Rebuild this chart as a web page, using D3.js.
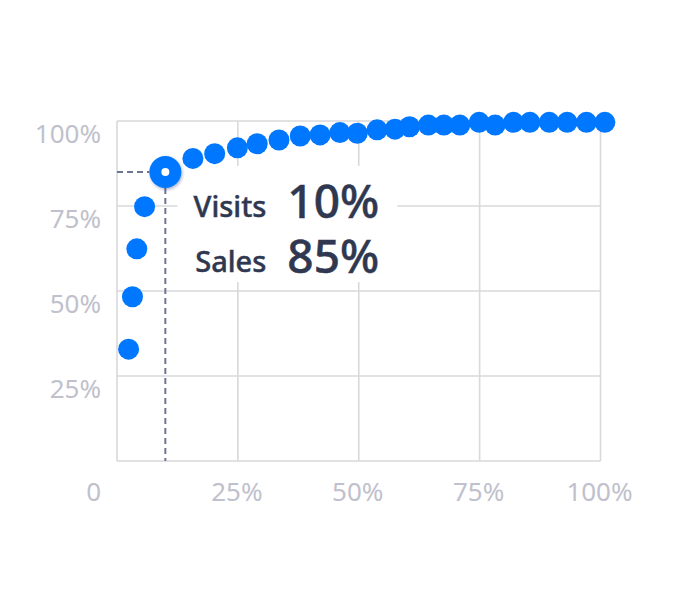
<!DOCTYPE html>
<html>
<head>
  <meta charset="UTF-8" />
  <title>Visits vs Sales</title>
  <script src="https://d3js.org/d3.v7.min.js"></script>
  <style>
    body { margin: 0; background: #fff; }
    text { font-family: "Noto Sans", sans-serif; }
    .grid line { stroke: #d9d9dc; stroke-width: 1.6px; }
    .tick-label { fill: #c0c1cc; font-size: 26px; }
    .guide { stroke: #6e7591; stroke-width: 2px; stroke-dasharray: 6 4; }
    .tip-label { fill: #2f3850; stroke: #2f3850; stroke-width: 0.45px; font-size: 29px; font-weight: 500; }
    .tip-value { fill: #2f3850; stroke: #2f3850; stroke-width: 0.5px; font-size: 46px; font-weight: 500; }
  </style>
</head>
<body>
<svg id="chart" width="680" height="598"></svg>

<script>
  // cumulative share of visits (x) vs share of sales (y)
  const visits = [0.024, 0.032, 0.041, 0.057, 0.10, 0.157, 0.202, 0.249, 0.290, 0.335,
    0.379, 0.420, 0.461, 0.497, 0.538, 0.575, 0.605, 0.644, 0.676, 0.709,
    0.749, 0.782, 0.820, 0.854, 0.894, 0.931, 0.971, 1.009];
  const sales = [0.329, 0.483, 0.624, 0.748, 0.85, 0.890, 0.904, 0.921, 0.933, 0.944,
    0.956, 0.959, 0.966, 0.964, 0.974, 0.976, 0.983, 0.988, 0.988, 0.988,
    0.996, 0.988, 0.996, 0.996, 0.996, 0.996, 0.996, 0.996];
  const ticks = [0.25, 0.5, 0.75, 1];
  const highlight = 4; // the point shown in the tooltip

  const svg = d3.select("#chart");
  const x = d3.scaleLinear().domain([0, 1]).range([117, 600.5]);
  const y = d3.scaleLinear().domain([0, 1]).range([461, 121]);
  const fmt = d3.format(".0%");

  // grid
  const grid = svg.append("g").attr("class", "grid");
  grid.selectAll(".v").data([0, ...ticks]).enter().append("line")
    .attr("x1", d => x(d)).attr("x2", d => x(d))
    .attr("y1", y(0)).attr("y2", y(1));
  grid.selectAll(".h").data([0, ...ticks]).enter().append("line")
    .attr("x1", x(0)).attr("x2", x(1))
    .attr("y1", d => y(d)).attr("y2", d => y(d));

  // axis labels
  svg.selectAll(".ylab").data(ticks).enter().append("text")
    .attr("class", "tick-label")
    .attr("x", x(0) - 16).attr("y", d => y(d) + 22)
    .attr("text-anchor", "end")
    .text(fmt);
  svg.selectAll(".xlab").data(ticks).enter().append("text")
    .attr("class", "tick-label")
    .attr("x", d => x(d) - 1).attr("y", y(0) + 40)
    .attr("text-anchor", "middle")
    .text(fmt);
  svg.append("text").attr("class", "tick-label")
    .attr("x", x(0) - 16).attr("y", y(0) + 40)
    .attr("text-anchor", "end").text("0");

  const hx = x(visits[highlight]), hy = y(sales[highlight]);

  // guide lines to the highlighted point
  svg.append("line").attr("class", "guide")
    .attr("x1", x(0)).attr("x2", hx - 16).attr("y1", hy).attr("y2", hy);
  svg.append("line").attr("class", "guide")
    .attr("x1", hx).attr("x2", hx).attr("y1", hy + 16).attr("y2", y(0));

  // tooltip background
  svg.append("rect")
    .attr("x", hx + 12).attr("y", hy - 6)
    .attr("width", 220).attr("height", 116)
    .attr("fill", "#fff");

  const tip = [
    { label: "Visits", value: fmt(visits[highlight]) },
    { label: "Sales", value: fmt(sales[highlight]) }
  ];
  tip.forEach((t, i) => {
    svg.append("text").attr("class", "tip-label")
      .attr("x", hx + 101).attr("y", hy + 45 + i * 55)
      .attr("text-anchor", "end").text(t.label);
    svg.append("text").attr("class", "tip-value")
      .attr("x", hx + 122).attr("y", hy + 46 + i * 55)
      .text(t.value);
  });

  // points
  const defs = svg.append("defs");
  const shadow = defs.append("filter").attr("id", "shadow")
    .attr("x", "-50%").attr("y", "-50%").attr("width", "200%").attr("height", "200%");
  shadow.append("feDropShadow").attr("dx", 1).attr("dy", 1.5)
    .attr("stdDeviation", 1.5).attr("flood-color", "#002a66").attr("flood-opacity", 0.35);

  const pts = visits.map((v, i) => ({ v, s: sales[i], i }));
  svg.selectAll(".dot").data(pts.filter(d => d.i !== highlight)).enter().append("circle")
    .attr("cx", d => x(d.v)).attr("cy", d => y(d.s))
    .attr("r", 10.5).attr("fill", "#0077ff");

  svg.append("circle").attr("cx", hx).attr("cy", hy).attr("r", 16)
    .attr("fill", "#0077ff").attr("filter", "url(#shadow)");
  svg.append("circle").attr("cx", hx).attr("cy", hy).attr("r", 4)
    .attr("fill", "#fff");
</script>
</body>
</html>
